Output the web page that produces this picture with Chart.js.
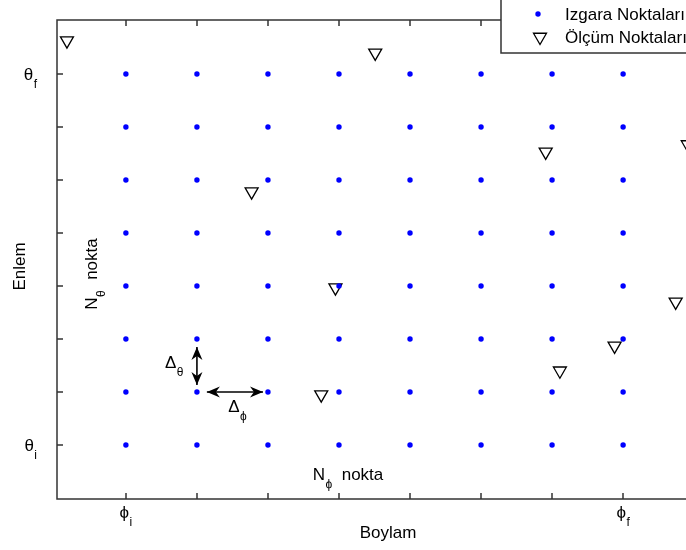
<!DOCTYPE html>
<html>
<head>
<meta charset="utf-8">
<title>Izgara ve Ölçüm Noktaları</title>
<script src="https://cdn.jsdelivr.net/npm/chart.js@4.4.1/dist/chart.umd.min.js"></script>
<style>
  html, body { margin: 0; padding: 0; background: #fff; }
  #wrap { width: 686px; height: 550px; overflow: hidden; position: relative; background: #fff; }
  #chart { display: block; }
</style>
</head>
<body>
<div id="wrap"><canvas id="chart" width="730" height="550"></canvas></div>
<script>
// grid columns (longitude, phi_i .. phi_f) and rows (latitude, theta_i .. theta_f)
const gridLon = [1, 2, 3, 4, 5, 6, 7, 8];
const gridLat = [1, 2, 3, 4, 5, 6, 7, 8];

// scattered measurement locations
const measLon = [0.17, 4.51, 6.91, 8.91, 2.77, 3.95, 8.74, 7.88, 7.11, 3.75];
const measLat = [8.63, 8.40, 6.53, 6.67, 5.78, 3.97, 3.70, 2.87, 2.40, 1.95];

// ticks: only the first and last get a label
const lonTicks = [1, 2, 3, 4, 5, 6, 7, 8];
const lonTickLabels = [['\u03d5', 'i'], null, null, null, null, null, null, ['\u03d5', 'f']];
const latTicks = [1, 2, 3, 4, 5, 6, 7, 8];
const latTickLabels = [['\u03b8', 'i'], null, null, null, null, null, null, ['\u03b8', 'f']];

const seriesLabels = ['Izgara Noktaları', 'Ölçüm Noktaları'];

const X_LIMITS = [0.03, 9.35];
const Y_LIMITS = [-0.02, 9.02];

const FONT = '"Liberation Sans", Arial, "DejaVu Sans", sans-serif';
const MAIN_PX = 17;
const SUB_PX = 12;
const AXIS_COLOR = '#333';

const gridPoints = [];
gridLat.forEach((lat) => gridLon.forEach((lon) => gridPoints.push({ x: lon, y: lat })));
const measPoints = measLon.map((lon, i) => ({ x: lon, y: measLat[i] }));

// draws "main" with a lowered, smaller "sub"; x is the left start
function drawSubText(ctx, main, sub, x, y) {
  ctx.font = `${MAIN_PX}px ${FONT}`;
  ctx.textAlign = 'left';
  ctx.textBaseline = 'alphabetic';
  ctx.fillText(main, x, y);
  const w = ctx.measureText(main).width;
  ctx.font = `${SUB_PX}px ${FONT}`;
  ctx.fillText(sub, x + w + 0.5, y + 8);
}

function subTextWidth(ctx, main, sub) {
  ctx.font = `${MAIN_PX}px ${FONT}`;
  const w1 = ctx.measureText(main).width;
  ctx.font = `${SUB_PX}px ${FONT}`;
  return w1 + 0.5 + ctx.measureText(sub).width;
}

function arrowHead(ctx, x, y, ang) {
  const len = 13, half = 5.5, notch = 4;
  ctx.save();
  ctx.translate(x, y);
  ctx.rotate(ang);
  ctx.beginPath();
  ctx.moveTo(0, 0);
  ctx.lineTo(-len, -half);
  ctx.lineTo(-len + notch, 0);
  ctx.lineTo(-len, half);
  ctx.closePath();
  ctx.fill();
  ctx.restore();
}

// double-headed spacing arrows between neighbouring grid nodes
const arrows = [
  { from: [2, 2.13], to: [2, 2.85] },
  { from: [2.14, 2], to: [2.93, 2] }
];

const axesDecor = {
  id: 'axesDecor',
  afterDatasetsDraw(chart) {
    const { ctx, chartArea: a, scales: { x, y } } = chart;
    ctx.save();

    // box
    ctx.strokeStyle = AXIS_COLOR;
    ctx.lineWidth = 1.5;
    ctx.strokeRect(Math.round(a.left), Math.round(a.top), Math.round(a.right - a.left), Math.round(a.bottom - a.top));

    // inward ticks on all four sides
    const tl = 6;
    ctx.beginPath();
    lonTicks.forEach((v) => {
      const px = Math.round(x.getPixelForValue(v));
      ctx.moveTo(px, a.bottom); ctx.lineTo(px, a.bottom - tl);
      ctx.moveTo(px, a.top); ctx.lineTo(px, a.top + tl);
    });
    latTicks.forEach((v) => {
      const py = Math.round(y.getPixelForValue(v));
      ctx.moveTo(a.left, py); ctx.lineTo(a.left + tl, py);
      ctx.moveTo(a.right, py); ctx.lineTo(a.right - tl, py);
    });
    ctx.stroke();

    // tick labels
    ctx.fillStyle = '#000';
    lonTicks.forEach((v, i) => {
      const lab = lonTickLabels[i];
      if (!lab) return;
      const w = subTextWidth(ctx, lab[0], lab[1]);
      drawSubText(ctx, lab[0], lab[1], x.getPixelForValue(v) - w / 2, a.bottom + 19);
    });
    latTicks.forEach((v, i) => {
      const lab = latTickLabels[i];
      if (!lab) return;
      const w = subTextWidth(ctx, lab[0], lab[1]);
      drawSubText(ctx, lab[0], lab[1], a.left - 20 - w, y.getPixelForValue(v) + 6);
    });

    // axis titles
    ctx.font = `${MAIN_PX}px ${FONT}`;
    ctx.textAlign = 'center';
    ctx.textBaseline = 'alphabetic';
    ctx.fillText('Boylam', (a.left + a.right) / 2, a.bottom + 39);
    ctx.save();
    ctx.translate(25, (a.top + a.bottom) / 2 + 7);
    ctx.rotate(-Math.PI / 2);
    ctx.fillText('Enlem', 0, 0);
    ctx.restore();

    // spacing arrows
    ctx.strokeStyle = '#000';
    ctx.fillStyle = '#000';
    ctx.lineWidth = 1.6;
    arrows.forEach(({ from, to }) => {
      const x1 = x.getPixelForValue(from[0]), y1 = y.getPixelForValue(from[1]);
      const x2 = x.getPixelForValue(to[0]), y2 = y.getPixelForValue(to[1]);
      const ang = Math.atan2(y2 - y1, x2 - x1);
      ctx.beginPath();
      ctx.moveTo(x1, y1); ctx.lineTo(x2, y2);
      ctx.stroke();
      arrowHead(ctx, x2, y2, ang);
      arrowHead(ctx, x1, y1, ang + Math.PI);
    });

    // annotations
    drawSubText(ctx, '\u0394', '\u03b8', x.getPixelForValue(1.55), y.getPixelForValue(2.45));
    drawSubText(ctx, '\u0394', '\u03d5', x.getPixelForValue(2.44), y.getPixelForValue(1.62));

    const nx = x.getPixelForValue(3.63), ny = y.getPixelForValue(0.34);
    drawSubText(ctx, 'N', '\u03d5', nx, ny);
    ctx.font = `${MAIN_PX}px ${FONT}`;
    ctx.fillText('nokta', nx + 29, ny);

    ctx.save();
    ctx.translate(x.getPixelForValue(0.59), y.getPixelForValue(3.55));
    ctx.rotate(-Math.PI / 2);
    drawSubText(ctx, 'N', '\u03b8', 0, 0);
    ctx.font = `${MAIN_PX}px ${FONT}`;
    ctx.fillText('nokta', 30, 0);
    ctx.restore();

    ctx.restore();
  },
  afterDraw(chart) {
    // legend box in the upper right corner
    const { ctx } = chart;
    const left = 501, bottom = 53;
    ctx.save();
    ctx.fillStyle = '#fff';
    ctx.strokeStyle = AXIS_COLOR;
    ctx.lineWidth = 1.5;
    ctx.fillRect(left, -10, 400, bottom + 10);
    ctx.strokeRect(left, -10, 400, bottom + 10);

    const rowsY = [14, 37];
    chart.data.datasets.forEach((ds, i) => {
      const cy = rowsY[i];
      ctx.beginPath();
      if (ds.pointStyle === 'triangle') {
        const r = ds.pointRadius;
        ctx.moveTo(540, cy + r);
        ctx.lineTo(540 - r * Math.sin(Math.PI / 3), cy - r / 2);
        ctx.lineTo(540 + r * Math.sin(Math.PI / 3), cy - r / 2);
        ctx.closePath();
        ctx.strokeStyle = ds.pointBorderColor;
        ctx.lineWidth = ds.pointBorderWidth;
        ctx.stroke();
      } else {
        ctx.arc(538, cy, ds.pointRadius, 0, Math.PI * 2);
        ctx.fillStyle = ds.pointBackgroundColor;
        ctx.fill();
      }
      ctx.fillStyle = '#000';
      ctx.font = `${MAIN_PX}px ${FONT}`;
      ctx.textAlign = 'left';
      ctx.textBaseline = 'middle';
      ctx.fillText(ds.label, 565, cy + 1);
    });
    ctx.restore();
  }
};

new Chart(document.getElementById('chart'), {
  type: 'scatter',
  data: {
    datasets: [
      {
        label: seriesLabels[0],
        data: gridPoints,
        pointStyle: 'circle',
        pointRadius: 2.7,
        pointBackgroundColor: '#0000ff',
        pointBorderColor: '#0000ff',
        pointBorderWidth: 0
      },
      {
        label: seriesLabels[1],
        data: measPoints,
        pointStyle: 'triangle',
        pointRotation: 180,
        pointRadius: 7.5,
        pointBackgroundColor: 'rgba(0,0,0,0)',
        pointBorderColor: '#000',
        pointBorderWidth: 1.3
      }
    ]
  },
  options: {
    responsive: false,
    animation: false,
    events: [],
    layout: { padding: { left: 57, top: 20, right: 11, bottom: 51 } },
    plugins: {
      legend: { display: false },
      tooltip: { enabled: false }
    },
    scales: {
      x: { type: 'linear', min: X_LIMITS[0], max: X_LIMITS[1], display: false },
      y: { type: 'linear', min: Y_LIMITS[0], max: Y_LIMITS[1], display: false }
    }
  },
  plugins: [axesDecor]
});
</script>
</body>
</html>
